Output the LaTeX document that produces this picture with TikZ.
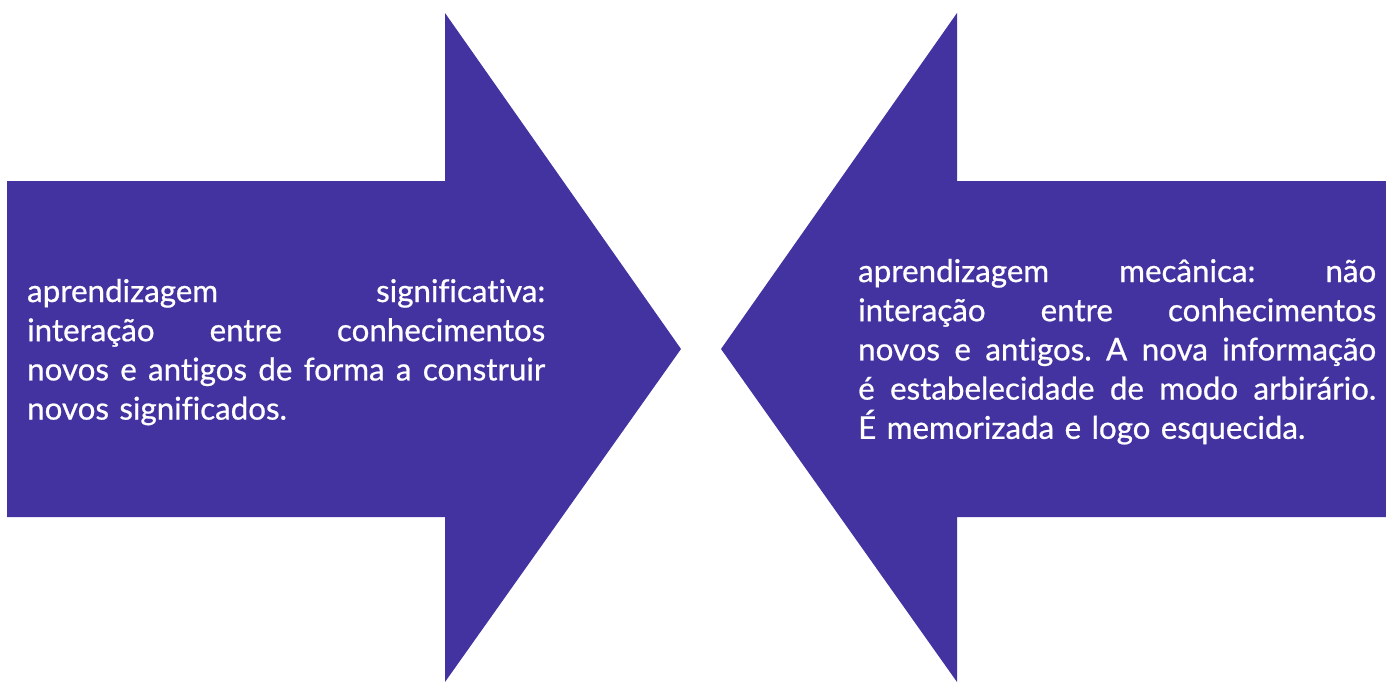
\documentclass[tikz,border=0pt]{standalone}
\usepackage{fontspec}
\setmainfont{Lato}
\newfontfamily\medfont{Lato}[FakeBold=0.7,Ligatures=NoCommon]
\definecolor{arrowblue}{HTML}{4333A1}
\newcommand\jsp{\hspace{0.2em plus 1fill}}
\newcommand\jline[1]{\makebox[518pt][s]{#1}}
\begin{document}
\begin{tikzpicture}[x=1pt,y=-1pt,
  arrowshape/.style={fill=arrowblue,draw=none},
  arrowtext/.style={text=white,inner sep=0pt,anchor=base west,text width=530pt,align=left,
    font=\medfont\fontsize{31.3}{39.2}\selectfont}]
\useasboundingbox (0,0) rectangle (1386,682);
\fill[arrowshape] (7,181) -- (445,181) -- (445,13) -- (681,349) -- (445,682) -- (445,517) -- (7,517) -- cycle;
\fill[arrowshape] (1386,181) -- (957,181) -- (957,13) -- (721,349) -- (957,682) -- (957,517) -- (1386,517) -- cycle;
\node[arrowtext] (lt) at (27,302) {\jline{aprendizagem\jsp significativa:}\\
\jline{interação\jsp entre\jsp conhecimentos}\\
\jline{novos\jsp e\jsp antigos\jsp de\jsp forma\jsp a\jsp construir}\\
novos significados.};
\node[arrowtext] (rt) at (858,282) {\jline{aprendizagem\jsp mecânica:\jsp não}\\
\jline{interação\jsp entre\jsp conhecimentos}\\
\jline{novos\jsp e\jsp antigos.\jsp A\jsp nova\jsp informação}\\
\jline{é\jsp estabelecidade\jsp de\jsp modo\jsp arbirário.}\\
É memorizada e logo esquecida.};
\end{tikzpicture}
\end{document}
